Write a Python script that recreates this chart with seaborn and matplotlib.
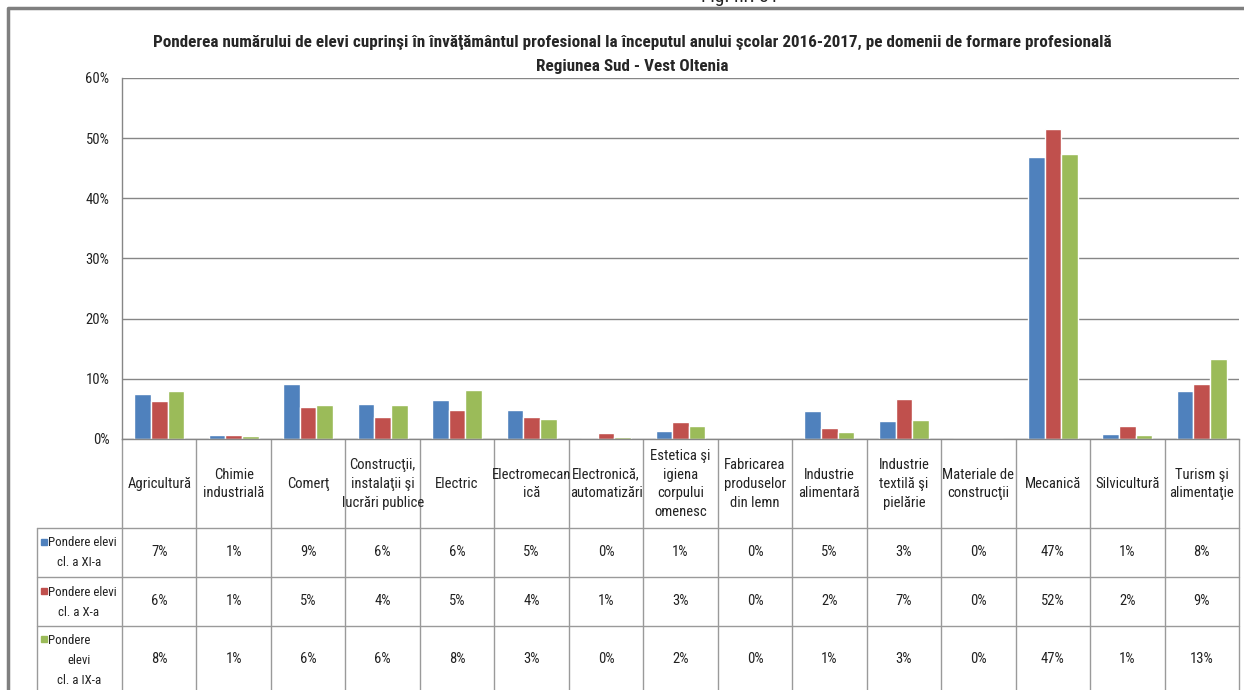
import matplotlib
matplotlib.use('Agg')
import matplotlib.pyplot as plt
from matplotlib import font_manager
from matplotlib.patches import Rectangle
from matplotlib.ticker import PercentFormatter, MultipleLocator
from matplotlib.transforms import blended_transform_factory
import pandas as pd
import seaborn as sns

# data (percent)
categories = ['Agricultură', 'Chimie\nindustrială', 'Comerţ',
              'Construcţii,\ninstalaţii şi\nlucrări publice', 'Electric',
              'Electromecan\nică', 'Electronică,\nautomatizări',
              'Estetica şi\nigiena\ncorpului\nomenesc',
              'Fabricarea\nproduselor\ndin lemn', 'Industrie\nalimentară',
              'Industrie\ntextilă şi\npielărie', 'Materiale de\nconstrucţii',
              'Mecanică', 'Silvicultură', 'Turism şi\nalimentaţie']
series_names = ['Pondere elevi cl. a XI-a', 'Pondere elevi cl. a X-a', 'Pondere elevi cl. a IX-a']
row_labels = [['Pondere elevi', 'cl. a XI-a'],
              ['Pondere elevi', 'cl. a X-a'],
              ['Pondere', 'elevi', 'cl. a IX-a']]
cl_xi = [7.4, 0.6, 9.2, 5.8, 6.4, 4.9, 0.0, 1.4, 0.0, 4.7, 3.0, 0.0, 46.9, 0.8, 7.9]
cl_x = [6.3, 0.6, 5.3, 3.7, 4.9, 3.6, 1.0, 2.9, 0.0, 1.9, 6.6, 0.0, 51.6, 2.1, 9.2]
cl_ix = [7.9, 0.55, 5.6, 5.6, 8.1, 3.4, 0.4, 2.1, 0.0, 1.15, 3.1, 0.0, 47.4, 0.65, 13.3]
colors = ['#4F81BD', '#C0504D', '#9BBB59']

sns.set_style('white')
# pick a narrow sans, like Arial Narrow in the original
installed = set(f.name for f in font_manager.fontManager.ttflist)
narrow = 'DejaVu Sans'
for cand in ['Liberation Sans Narrow', 'Arial Narrow', 'Roboto Condensed', 'PT Sans Narrow',
             'Archivo Narrow', 'IBM Plex Sans Condensed', 'Open Sans Condensed']:
    if cand in installed:
        narrow = cand
        break
plt.rcParams['font.family'] = [narrow, 'DejaVu Sans']

W, H = 1244, 690
fig = plt.figure(figsize=(W / 100, H / 100), dpi=100)

# overlay in pixel coordinates for frame / table
over = fig.add_axes([0, 0, 1, 1])
over.set_xlim(0, W)
over.set_ylim(H, 0)
over.axis('off')

ax = fig.add_axes([122 / W, (H - 439) / H, 1117 / W, 361 / H])

all_series = [cl_xi, cl_x, cl_ix]
rows = []
for name, vals in zip(series_names, all_series):
    for c, v in zip(categories, vals):
        rows.append({'cat': c, 'val': v / 100, 'serie': name})
df = pd.DataFrame(rows)

sns.barplot(data=df, x='cat', y='val', hue='serie', palette=colors,
            saturation=1, width=0.67, ax=ax, legend=False)

ax.set_xlim(-0.5, len(categories) - 0.5)
ax.set_ylim(0, 0.6)
ax.yaxis.set_major_locator(MultipleLocator(0.1))
ax.yaxis.set_major_formatter(PercentFormatter(1, decimals=0))
ax.grid(axis='y', color='#868686', lw=1)
ax.set_axisbelow(True)
ax.set_xticks([])
ax.set_xlabel('')
ax.set_ylabel('')
ax.tick_params(axis='y', length=0, pad=9, labelsize=10.5, labelcolor='#222222')
for s in ['top', 'right']:
    ax.spines[s].set_visible(False)
for s in ['left', 'bottom']:
    ax.spines[s].set_color('#868686')
    ax.spines[s].set_linewidth(1)

# data table under the chart
bt = blended_transform_factory(ax.transData, over.transData)
line_c = '#9a9a9a'
for i in range(len(categories) + 1):
    over.plot([i - 0.5, i - 0.5], [439, H], color=line_c, lw=1, transform=bt)
over.plot([37, 37], [528, H], color=line_c, lw=1)
x_right = ax.transData.transform((len(categories) - 0.5, 0))[0]
for y in [528, 577, 626]:
    over.plot([37, x_right], [y, y], color=line_c, lw=1)

fs = 10.5
for i, c in enumerate(categories):
    over.text(i, 484, c, transform=bt, ha='center', va='center',
              fontsize=fs, linespacing=1.45, color='#222222')

row_y = [552, 601, 659]
label_y = [[543, 563], [592, 612], [640, 660, 680]]
for r, vals in enumerate(all_series):
    for i, v in enumerate(vals):
        over.text(i, row_y[r], '{:.0f}%'.format(v), transform=bt, ha='center',
                  va='center', fontsize=fs, color='#222222')
    lines = row_labels[r]
    over.add_patch(Rectangle((41, label_y[r][0] - 4), 6, 6, color=colors[r]))
    over.text(48, label_y[r][0], lines[0], ha='left', va='center',
              fontsize=9.3, color='#222222')
    for ly, t in zip(label_y[r][1:], lines[1:]):
        over.text(79, ly, t, ha='center', va='center', fontsize=9.3, color='#222222')

# outer frame
over.plot([8, 8, W], [H, 8, 8], color='#7f7f7f', lw=2.5)
over.text(740, -3, 'Fig. nr. 31', ha='center', va='center', fontsize=14, color='#222222')

fig.text(632 / W, 1 - 42 / H,
         'Ponderea numărului de elevi cuprinşi în învăţământul profesional la începutul '
         'anului şcolar 2016-2017, pe domenii de formare profesională',
         ha='center', va='center', fontsize=12.3, fontweight='bold')
fig.text(632 / W, 1 - 67 / H, 'Regiunea Sud - Vest Oltenia',
         ha='center', va='center', fontsize=12.3, fontweight='bold')

fig.savefig('out.png', dpi=100)
